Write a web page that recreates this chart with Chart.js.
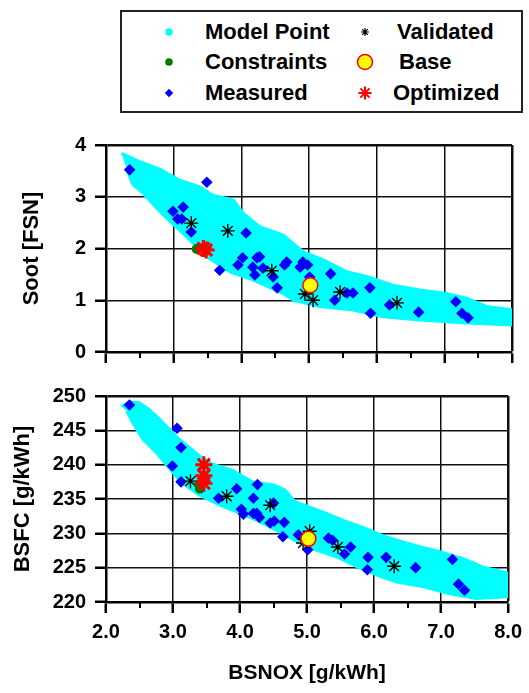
<!DOCTYPE html>
<html><head><meta charset="utf-8">
<script src="https://cdn.jsdelivr.net/npm/chart.js@4/dist/chart.umd.min.js"></script>
<style>
html,body{margin:0;padding:0;background:#fff;width:529px;height:693px;overflow:hidden;}
#legend{position:absolute;left:120px;top:10px;width:399px;height:99px;border:2px solid #222;font:bold 22px "Liberation Sans",Arial,sans-serif;color:#000;}
.item{position:absolute;height:30px;line-height:30px;white-space:nowrap;}
.mk{position:absolute;width:24px;height:24px;}
#c1{position:absolute;left:0;top:120px;}
#c2{position:absolute;left:0;top:375px;}
</style></head><body>
<div id="legend"></div>
<canvas id="c1" width="529" height="255"></canvas>
<canvas id="c2" width="529" height="318"></canvas>
<script>
// ---------- axis ranges / ticks ----------
const xRange = [2, 8];
const minorTicks = [2.5, 3.5, 4.5, 5.5, 6.5, 7.5];
const sootRange = [0, 4];
const bsfcRange = [220, 250];

// ---------- Soot chart data ----------
const sootBandUpperX = [2.23, 2.50, 2.80, 3.09, 3.39, 3.58, 3.88, 4.03, 4.27, 4.62, 4.91, 5.21, 5.56, 5.85, 6.24, 6.64, 7.03, 7.33, 7.62, 8.05];
const sootBandUpperY = [3.84, 3.68, 3.53, 3.32, 3.19, 3.03, 2.94, 2.68, 2.42, 2.26, 1.94, 1.78, 1.55, 1.46, 1.29, 1.20, 1.13, 1.04, 0.88, 0.81];
const sootBandLowerX = [2.31, 2.40, 2.55, 2.75, 2.90, 3.19, 3.49, 3.83, 4.18, 4.62, 4.77, 5.16, 5.65, 6.10, 6.64, 7.33, 8.05];
const sootBandLowerY = [3.52, 3.23, 3.07, 2.78, 2.58, 2.23, 1.84, 1.55, 1.39, 1.13, 1.00, 0.88, 0.81, 0.68, 0.62, 0.56, 0.52];

const sootMeasuredX = [2.35, 3.49, 2.99, 3.14, 3.06, 3.12, 3.26, 4.07, 3.68, 3.95, 4.02, 4.17, 4.23, 4.27, 4.20, 4.32, 4.47, 4.53, 4.64, 4.67, 4.91, 4.98, 4.87, 5.01, 5.32, 5.38, 5.56, 5.65, 5.90, 5.91, 6.19, 6.62, 7.17, 7.26, 7.35];
const sootMeasuredY = [3.52, 3.28, 2.72, 2.80, 2.57, 2.57, 2.32, 2.30, 1.58, 1.68, 1.82, 1.64, 1.82, 1.84, 1.49, 1.62, 1.45, 1.24, 1.68, 1.74, 1.74, 1.68, 1.64, 1.45, 1.51, 1.00, 1.14, 1.14, 1.24, 0.75, 0.91, 0.77, 0.97, 0.75, 0.66];
const sootValidatedX = [3.26, 3.80, 4.45, 4.94, 5.06, 5.46, 6.30];
const sootValidatedY = [2.49, 2.34, 1.57, 1.12, 1.00, 1.16, 0.95];
const sootConstraintsX = [3.34];
const sootConstraintsY = [1.99];
const sootBaseX = [5.02];
const sootBaseY = [1.29];
const sootOptimizedX = [3.44, 3.48];
const sootOptimizedY = [2.00, 1.97];

// ---------- BSFC chart data ----------
const bsfcBandUpperX = [2.23, 2.35, 2.50, 2.65, 2.80, 3.09, 3.39, 3.58, 3.88, 4.18, 4.52, 4.67, 4.82, 5.26, 5.56, 5.85, 6.15, 6.44, 6.74, 7.03, 7.33, 7.62, 8.05];
const bsfcBandUpperY = [248.5, 249.1, 249.0, 248.0, 246.6, 243.7, 241.3, 240.1, 239.2, 237.5, 237.0, 236.3, 234.6, 233.0, 231.8, 230.8, 229.6, 228.7, 227.9, 227.2, 226.3, 225.1, 224.1];
const bsfcBandLowerX = [2.31, 2.40, 2.55, 2.75, 2.95, 3.14, 3.39, 3.68, 3.98, 4.27, 4.57, 4.87, 5.16, 5.46, 5.75, 6.05, 6.34, 6.74, 7.13, 7.52, 8.05];
const bsfcBandLowerY = [247.8, 246.1, 243.7, 241.8, 239.4, 237.3, 235.6, 234.2, 233.0, 231.8, 230.3, 228.7, 227.5, 226.5, 225.1, 223.9, 222.9, 222.2, 221.2, 220.5, 220.8];

const bsfcMeasuredX = [2.35, 3.06, 3.12, 2.99, 3.12, 3.68, 3.95, 4.26, 4.20, 4.02, 4.05, 4.20, 4.25, 4.29, 4.45, 4.51, 4.66, 4.64, 4.50, 4.87, 5.01, 5.32, 5.38, 5.56, 5.65, 5.91, 5.90, 6.18, 6.62, 7.17, 7.26, 7.35];
const bsfcMeasuredY = [248.7, 245.3, 242.5, 239.8, 237.5, 235.1, 236.5, 237.1, 235.1, 233.5, 232.8, 232.9, 232.9, 232.3, 231.5, 231.8, 231.6, 229.5, 234.4, 229.8, 227.6, 229.3, 229.0, 227.0, 228.0, 226.5, 224.7, 226.5, 225.0, 226.2, 222.6, 221.7];
const bsfcValidatedX = [3.26, 3.80, 4.45, 5.04, 4.94, 5.46, 6.30];
const bsfcValidatedY = [237.6, 235.4, 234.1, 230.3, 228.6, 228.0, 225.2];
const bsfcConstraintsX = [3.39, 3.40];
const bsfcConstraintsY = [237.1, 236.5];
const bsfcBaseX = [5.02];
const bsfcBaseY = [229.2];
const bsfcOptimizedX = [3.46, 3.46, 3.46];
const bsfcOptimizedY = [240.0, 238.4, 237.3];

// ---------- legend ----------
const legendLabels = ['Model Point', 'Constraints', 'Measured', 'Validated', 'Base', 'Optimized'];

// ---------- styles ----------
const FONT = '"Liberation Sans", Arial, sans-serif';
Chart.defaults.font.family = FONT;
const S = {
  model: {bg: '#00ffff', border: '#00ffff', ps: 'circle', r: 4, bw: 0},
  constraints: {bg: '#007a00', border: '#007a00', ps: 'circle', r: 5, bw: 0},
  measured: {bg: '#0000ff', border: '#0000ff', ps: 'rectRot', r: 5.8, bw: 0},
  validated: {bg: '#000', border: '#000', ps: 'star', r: 7, bw: 1.4},
  base: {bg: '#ffff00', border: '#ff0000', ps: 'circle', r: 7.5, bw: 1.5},
  optimized: {bg: '#ff0000', border: '#ff0000', ps: 'star', r: 8.5, bw: 3}
};
const legendStyles = [
  {r: 3.8, st: 'model'}, {r: 3.8, st: 'constraints'}, {r: 4.2, st: 'measured'},
  {r: 4, st: 'validated'}, {r: 7.5, st: 'base'}, {r: 6.5, st: 'optimized'}
];

function zip(xs, ys) { return xs.map((x, i) => ({x: x, y: ys[i]})); }
function band(ux, uy, lx, ly) {
  return zip(ux, uy).concat(zip(lx, ly).reverse());
}

function scatterSet(label, xs, ys, st, order) {
  return {
    label: label, data: zip(xs, ys), order: order,
    pointStyle: st.ps, pointRadius: st.r, pointHoverRadius: st.r,
    backgroundColor: st.bg, borderColor: st.border, pointBorderWidth: st.bw,
    borderWidth: st.bw, showLine: false, clip: 0
  };
}

const minorTickPlugin = {
  id: 'minorTicks',
  afterDraw(chart) {
    const xs = chart.scales.x, ctx = chart.ctx, yb = chart.chartArea.bottom;
    ctx.save(); ctx.strokeStyle = '#000'; ctx.lineWidth = 2;
    minorTicks.forEach(v => {
      const px = Math.round(xs.getPixelForValue(v));
      ctx.beginPath(); ctx.moveTo(px, yb); ctx.lineTo(px, yb + 6); ctx.stroke();
    });
    ctx.restore();
  }
};

function makeChart(id, o) {
  const yMax = o.yRange[1];
  return new Chart(document.getElementById(id), {
    type: 'scatter',
    data: {datasets: o.datasets},
    options: {
      responsive: false, animation: false, devicePixelRatio: 1,
      layout: {padding: {left: 0, right: 17, top: o.padTop, bottom: 0}},
      plugins: {legend: {display: false}, tooltip: {enabled: false}},
      elements: {line: {tension: 0}},
      scales: {
        x: {
          type: 'linear', min: xRange[0], max: xRange[1],
          ticks: {stepSize: 1, display: o.xLabels, color: '#000', padding: 7, maxRotation: 0, autoSkip: false,
                  font: {size: 20, weight: 'bold'}, callback: v => Number(v).toFixed(1)},
          grid: {color: '#111', lineWidth: c => (c.tick && c.tick.value === xRange[1]) ? 2.5 : 1.5,
                 drawTicks: true, tickLength: 11, tickWidth: 2.5, tickColor: '#000'},
          border: {display: true, color: '#000', width: 2.5},
          title: {display: o.xLabels, text: 'BSNOX [g/kWh]', color: '#000',
                  font: {size: 21, weight: 'bold'}, padding: {top: 0, bottom: 7}},
          afterFit: s => { s.height = o.xHeight; }
        },
        y: {
          type: 'linear', min: o.yRange[0], max: yMax,
          ticks: {stepSize: o.yStep, color: '#000', padding: 9, font: {size: 20, weight: 'bold'}},
          grid: {color: '#111', lineWidth: c => (c.tick && c.tick.value === yMax) ? 2.5 : 1.5,
                 drawTicks: true, tickLength: 11, tickWidth: 2.5, tickColor: '#000'},
          border: {display: true, color: '#000', width: 2.5},
          title: {display: true, text: o.yTitle, color: '#000', font: {size: 22, weight: 'bold'},
                  padding: {top: o.yTitlePad, bottom: 0}},
          afterFit: s => { s.width = 106; }
        }
      }
    },
    plugins: [minorTickPlugin]
  });
}

function datasetsFor(p) {
  return [
    scatterSet('Optimized', p.optX, p.optY, S.optimized, 1),
    scatterSet('Base', p.baseX, p.baseY, S.base, 2),
    scatterSet('Constraints', p.conX, p.conY, S.constraints, 3),
    scatterSet('Validated', p.valX, p.valY, S.validated, 4),
    scatterSet('Measured', p.meaX, p.meaY, S.measured, 5),
    {
      label: 'Model Point', data: band(p.bux, p.buy, p.blx, p.bly), order: 6,
      showLine: true, fill: 'shape', backgroundColor: '#00ffff', borderColor: '#00ffff',
      borderWidth: 3, borderJoinStyle: 'round', pointRadius: 0, clip: 0
    }
  ];
}

makeChart('c1', {
  padTop: 25, xHeight: 23, xLabels: false, yRange: sootRange, yStep: 1,
  yTitle: 'Soot [FSN]', yTitlePad: 19,
  datasets: datasetsFor({
    optX: sootOptimizedX, optY: sootOptimizedY, baseX: sootBaseX, baseY: sootBaseY,
    conX: sootConstraintsX, conY: sootConstraintsY, valX: sootValidatedX, valY: sootValidatedY,
    meaX: sootMeasuredX, meaY: sootMeasuredY,
    bux: sootBandUpperX, buy: sootBandUpperY, blx: sootBandLowerX, bly: sootBandLowerY
  })
});

makeChart('c2', {
  padTop: 18, xHeight: 91, xLabels: true, yRange: bsfcRange, yStep: 5,
  yTitle: 'BSFC [g/kWh]', yTitlePad: 10,
  datasets: datasetsFor({
    optX: bsfcOptimizedX, optY: bsfcOptimizedY, baseX: bsfcBaseX, baseY: bsfcBaseY,
    conX: bsfcConstraintsX, conY: bsfcConstraintsY, valX: bsfcValidatedX, valY: bsfcValidatedY,
    meaX: bsfcMeasuredX, meaY: bsfcMeasuredY,
    bux: bsfcBandUpperX, buy: bsfcBandUpperY, blx: bsfcBandLowerX, bly: bsfcBandLowerY
  })
});

// ---------- HTML legend ----------
(function () {
  const box = document.getElementById('legend');
  const rowY = [20, 50, 81];
  const markX = [47, 243];
  const textX = [[83, 83, 83], [275, 277, 271]];
  legendLabels.forEach((lab, i) => {
    const col = Math.floor(i / 3), row = i % 3;
    const t = document.createElement('div');
    t.className = 'item'; t.textContent = lab;
    t.style.left = textX[col][row] + 'px'; t.style.top = (rowY[row] - 15) + 'px';
    box.appendChild(t);
    const cv = document.createElement('canvas');
    cv.className = 'mk'; cv.width = 24; cv.height = 24;
    cv.style.left = (markX[col] - 12) + 'px'; cv.style.top = (rowY[row] - 12) + 'px';
    box.appendChild(cv);
    const ls = legendStyles[i], st = S[ls.st];
    const ctx = cv.getContext('2d');
    ctx.fillStyle = st.bg; ctx.strokeStyle = st.border;
    const bw = ls.st === 'optimized' ? 2 : (ls.st === 'validated' ? 1.2 : st.bw);
    ctx.lineWidth = bw;
    const opts = {pointStyle: st.ps, radius: ls.r, rotation: 0, borderWidth: bw};
    if (Chart.helpers && Chart.helpers.drawPoint) {
      Chart.helpers.drawPoint(ctx, opts, 12, 12);
    } else {
      ctx.beginPath(); ctx.arc(12, 12, ls.r, 0, Math.PI * 2); ctx.fill();
      if (bw) ctx.stroke();
    }
  });
})();
</script>
</body></html>
